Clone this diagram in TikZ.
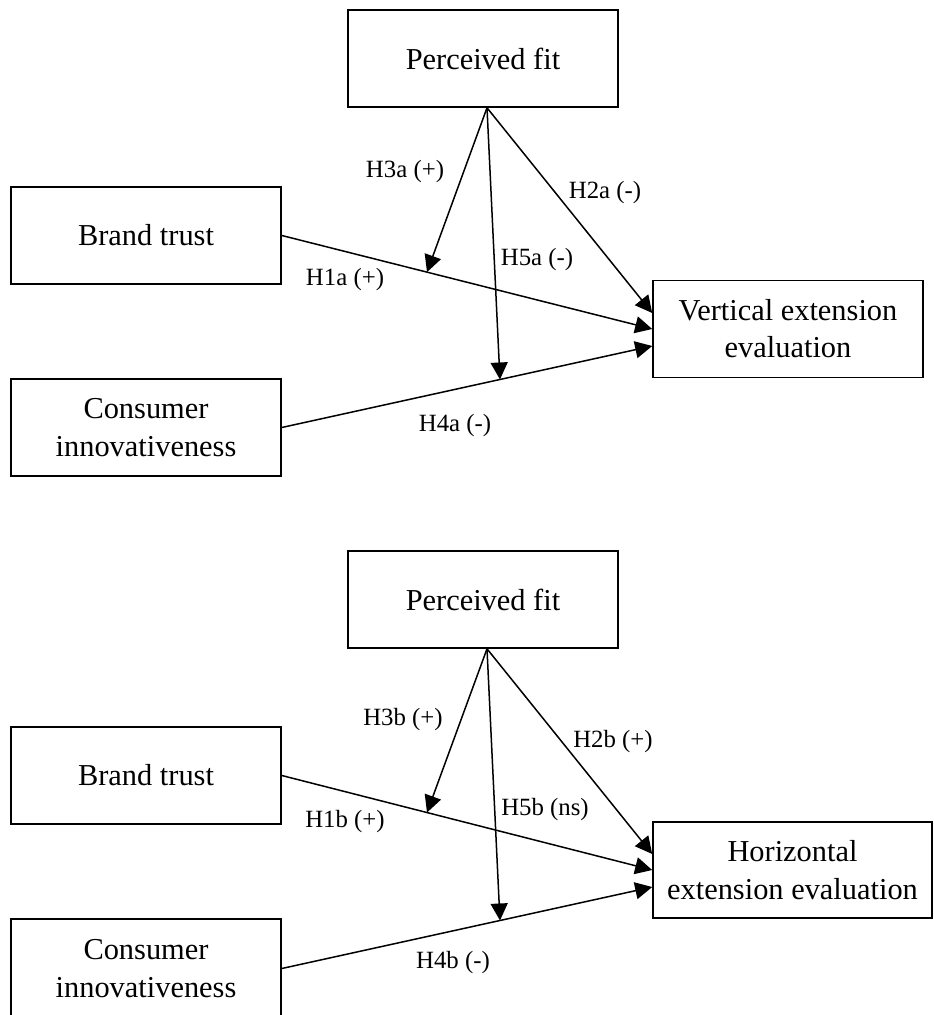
\documentclass[tikz,border=0pt]{standalone}
\usepackage{fontspec}
\setmainfont{Liberation Serif}
\usetikzlibrary{arrows.meta}
\tikzset{
  box/.style={draw, line width=0.8pt, minimum width=135pt, minimum height=48.5pt,
    inner sep=0pt, align=center, font=\fontsize{15.2}{18.6}\selectfont},
  link/.style={line width=0.75pt, -{Triangle[length=8.5pt,width=8.5pt]}},
  hyp/.style={font=\fontsize{12.4}{15}\selectfont, inner sep=0pt}
}
\begin{document}
\begin{tikzpicture}[x=0.5pt,y=-0.5pt]
  \useasboundingbox (0,0) rectangle (933,1015);
  % vertical extension model
  \node[box] (pf1) at (483,58.5) {Perceived fit};
  \node[box] (bt1) at (146,235.5) {Brand trust};
  \node[box] (ci1) at (146,427.5) {Consumer\\innovativeness};
  \node[box] (ve) at (788,329) {Vertical extension\\evaluation};
  \coordinate (top1) at ([xshift=2pt]pf1.south);
  \draw[link] (bt1.east) -- coordinate[pos=0.392] (m31) (ve.west);
  \draw[link] (ci1.east) -- coordinate[pos=0.589] (m51) ([yshift=-8.5pt]ve.west);
  \draw[link] (top1) -- (m31);
  \draw[link] (top1) -- (m51);
  \draw[link] (top1) -- ([yshift=8pt]ve.west);
  \node[hyp] (h3a) at (405,172) {H3a (+)};
  \node[hyp] (h2a) at (605,193) {H2a (-)};
  \node[hyp] (h5a) at (537,260) {H5a (-)};
  \node[hyp] (h1a) at (345,280) {H1a (+)};
  \node[hyp] (h4a) at (455,426) {H4a (-)};
  % horizontal extension model
  \node[box] (pf2) at (483,599.5) {Perceived fit};
  \node[box] (bt2) at (146,775.5) {Brand trust};
  \node[box, minimum height=49.5pt] (ci2) at (146,968.5) {Consumer\\innovativeness};
  \node[box, minimum width=139.5pt, minimum height=48pt] (he) at (792.5,870) {Horizontal\\extension evaluation};
  \coordinate (top2) at ([xshift=2pt]pf2.south);
  \draw[link] (bt2.east) -- coordinate[pos=0.392] (m32) (he.west);
  \draw[link] (ci2.east) -- coordinate[pos=0.589] (m52) ([yshift=-8.5pt]he.west);
  \draw[link] (top2) -- (m32);
  \draw[link] (top2) -- (m52);
  \draw[link] (top2) -- ([yshift=8pt]he.west);
  \node[hyp] (h3b) at (403,720) {H3b (+)};
  \node[hyp] (h2b) at (613,742) {H2b (+)};
  \node[hyp] (h5b) at (545,810) {H5b (ns)};
  \node[hyp] (h1b) at (345,822) {H1b (+)};
  \node[hyp] (h4b) at (453,963) {H4b (-)};
\end{tikzpicture}
\end{document}
